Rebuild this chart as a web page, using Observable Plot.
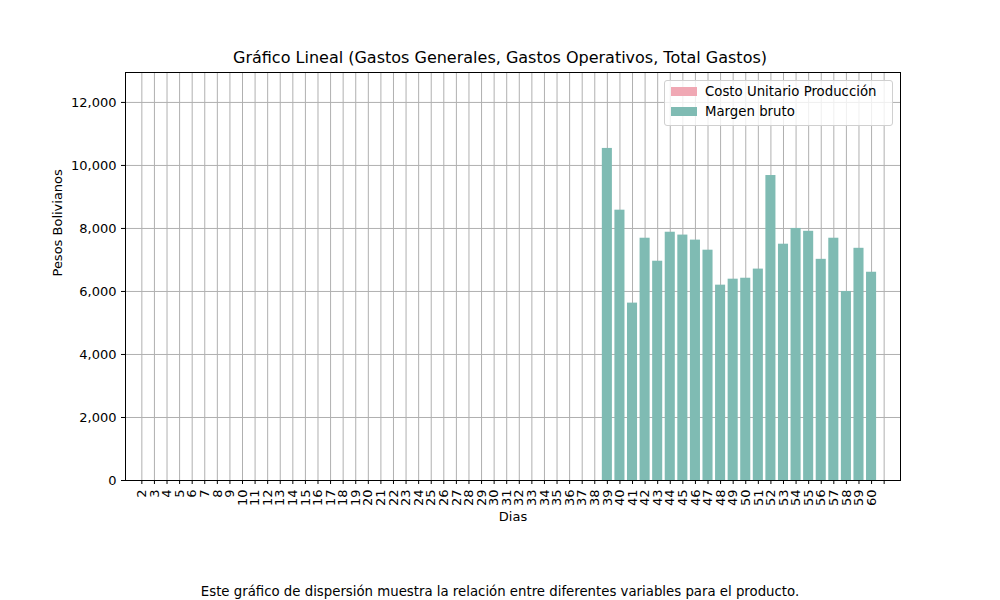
<!DOCTYPE html>
<html><head><meta charset="utf-8">
<script src="https://cdn.jsdelivr.net/npm/d3@7"></script>
<script src="https://cdn.jsdelivr.net/npm/@observablehq/plot@0.6"></script>
<style>
body{margin:0;background:#fff;font-family:"DejaVu Sans",sans-serif}
#wrap{position:relative;width:1000px;height:600px}
.t{position:absolute;white-space:nowrap;color:#000}
#legend{position:absolute;left:664px;top:80px;width:227px;height:44px;border:1px solid #d0d0d0;border-radius:3px;background:rgba(255,255,255,0.8);font-size:13.3px}
.sw{display:inline-block;width:26px;height:9px;margin:0 8px 0 6px}
</style></head><body>
<div id="wrap">
<div id="chart"></div>
<div class="t" style="left:0;width:1000px;text-align:center;top:48px;font-size:16px">Gráfico Lineal (Gastos Generales, Gastos Operativos, Total Gastos)</div>
<div class="t" style="left:0;width:1000px;text-align:center;top:584px;font-size:13.3px">Este gráfico de dispersión muestra la relación entre diferentes variables para el producto.</div>
<div id="legend">
<div style="position:absolute;top:3px"><span class="sw" style="background:#f0a8b4"></span>Costo Unitario Producción</div>
<div style="position:absolute;top:23px"><span class="sw" style="background:#7fbbb3"></span>Margen bruto</div>
</div>
</div>
<script>
const dias = d3.range(2, 62)
const margenDias = [39,40,41,42,43,44,45,46,47,48,49,50,51,52,53,54,55,56,57,58,59,60]
const margen = [10540,8580,5630,7690,6960,7880,7790,7630,7310,6200,6390,6420,6710,9680,7500,8000,7910,7020,7690,6000,7370,6610]
const yTicks = [0,2000,4000,6000,8000,10000,12000]

const data = margenDias.map((d, i) => ({dia: d, valor: margen[i]}))

const chart = Plot.plot({
  width: 1000, height: 600,
  marginLeft: 125, marginRight: 100, marginTop: 72, marginBottom: 120,
  style: {fontFamily: "DejaVu Sans", fontSize: "13px", color: "#000"},
  x: {type: "band", domain: dias, padding: 0.2, paddingOuter: 0.9, label: null,
      tickFormat: d => d === 61 ? "" : d, tickRotate: -90, tickSize: 4},
  y: {domain: [0, 12950], ticks: yTicks, label: null, tickFormat: d => d, tickSize: 4},
  marks: [
    Plot.gridX(dias, {stroke: "#b0b0b0", strokeOpacity: 1}),
    Plot.gridY(yTicks, {stroke: "#b0b0b0", strokeOpacity: 1}),
    Plot.barY(data, {x: "dia", y: "valor", fill: "#7fbbb3"}),
    Plot.frame({stroke: "#000"}),
    Plot.axisX({tickRotate: -90, tickFormat: d => d === 61 ? "" : d, label: null, tickSize: 4}),
    Plot.axisY({ticks: yTicks, tickFormat: d => d, label: null, tickSize: 4}),
    Plot.text(["Dias"], {frameAnchor: "bottom", dy: 40, fontSize: 13}),
    Plot.text(["Pesos Bolivianos"], {frameAnchor: "left", dx: -68, rotate: -90, fontSize: 13})
  ]
})
document.getElementById("chart").append(chart)
</script>
</body></html>
